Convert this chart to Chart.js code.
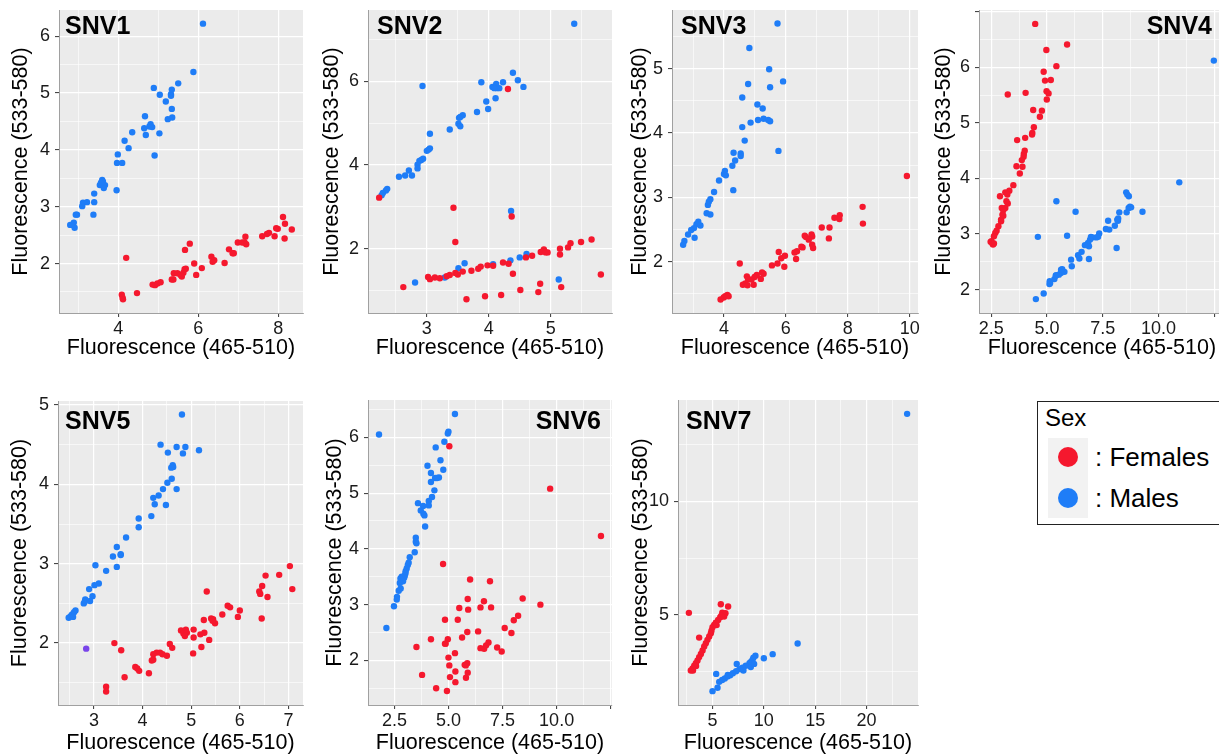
<!DOCTYPE html>
<html>
<head>
<meta charset="utf-8">
<script src="https://cdn.jsdelivr.net/npm/chart.js"></script>
<style>
  html, body { margin: 0; padding: 0; background: #fff; overflow: hidden; width: 1219px; height: 755px; }
  .panel { position: absolute; }
  .lg { position: absolute; font-family: "Liberation Sans", Arial, sans-serif; color: #000; white-space: nowrap; }
</style>
</head>
<body>
<div class="lg" style="left:1037px;top:401px;width:200px;height:122px;border:1px solid #222;"></div>
<div class="lg" style="left:1045px;top:404px;font-size:24px;line-height:28px;">Sex</div>
<div class="lg" style="left:1048px;top:438px;width:40px;height:80px;background:#F2F2F2;"></div>
<div class="lg" style="left:1058px;top:447px;width:20px;height:20px;border-radius:50%;background:#F5182E;"></div>
<div class="lg" style="left:1058px;top:488px;width:20px;height:20px;border-radius:50%;background:#1F7DF7;"></div>
<div class="lg" style="left:1095px;top:442px;font-size:26px;line-height:30px;">: Females</div>
<div class="lg" style="left:1095px;top:483px;font-size:26px;line-height:30px;">: Males</div>

<script>
// ---- data: [x, y] = [Fluorescence 465-510, Fluorescence 533-580]
const snv1Females = [[4.20,2.10],[4.09,1.45],[4.11,1.40],[4.12,1.37],[4.47,1.48],[4.86,1.63],[4.92,1.62],[4.98,1.65],[5.06,1.67],[5.34,1.72],[5.38,1.72],[5.39,1.83],[5.48,1.83],[5.56,1.80],[5.63,1.84],[5.66,1.90],[5.69,1.91],[5.59,1.77],[5.67,2.24],[5.79,2.35],[5.90,2.00],[5.95,1.80],[6.09,1.92],[6.33,2.12],[6.36,2.03],[6.40,2.06],[6.66,2.01],[6.77,2.25],[6.86,2.18],[6.89,2.18],[6.99,2.37],[7.10,2.37],[7.16,2.37],[7.18,2.47],[7.20,2.34],[7.60,2.48],[7.72,2.52],[7.77,2.54],[7.91,2.48],[7.95,2.62],[7.99,2.61],[8.12,2.82],[8.16,2.44],[8.17,2.70],[8.34,2.60]];
const snv1Males = [[6.12,6.22],[5.88,5.37],[5.50,5.17],[5.34,5.06],[5.32,4.98],[5.32,4.95],[5.19,4.85],[5.04,4.97],[4.89,5.09],[5.34,4.72],[5.35,4.57],[5.24,4.54],[4.67,4.59],[4.65,4.38],[4.78,4.41],[4.81,4.45],[4.85,4.40],[4.69,4.26],[5.03,4.29],[4.35,4.31],[4.16,4.16],[4.26,4.03],[4.91,3.90],[3.99,3.92],[3.97,3.77],[4.10,3.77],[3.96,3.29],[3.60,3.47],[3.62,3.44],[3.67,3.38],[3.54,3.38],[3.64,3.33],[3.57,3.42],[3.40,3.23],[3.40,3.08],[3.38,2.86],[3.22,3.08],[3.12,3.07],[3.10,3.01],[2.97,2.86],[2.94,2.86],[2.80,2.68],[2.89,2.72],[2.91,2.63],[2.84,2.68]];
const snv1XTicks = [4, 6, 8];
const snv1YTicks = [2, 3, 4, 5, 6];

const snv2Females = [[2.23,3.22],[4.31,5.82],[3.43,2.98],[3.46,2.16],[4.37,2.77],[2.62,1.08],[3.02,1.32],[3.05,1.27],[3.13,1.31],[3.21,1.29],[3.32,1.34],[3.37,1.37],[3.46,1.42],[3.50,1.38],[3.58,1.45],[3.72,1.47],[3.83,1.52],[3.87,1.57],[3.98,1.60],[4.07,1.59],[4.23,1.67],[4.32,1.64],[4.60,1.79],[4.70,1.83],[4.84,1.92],[4.89,1.98],[4.92,1.91],[4.95,1.91],[5.15,2.00],[5.15,1.86],[5.28,2.03],[5.32,2.13],[5.49,2.16],[5.66,2.22],[5.81,1.38],[4.39,1.40],[4.83,1.16],[5.17,1.08],[4.80,0.96],[4.51,1.01],[4.20,0.89],[3.94,0.86],[3.64,0.79]];
const snv2Males = [[5.38,7.38],[4.39,6.21],[4.47,6.03],[4.23,5.98],[3.88,5.98],[4.56,5.87],[4.06,5.87],[4.12,5.94],[4.13,5.84],[4.17,5.84],[4.09,5.84],[2.93,5.89],[4.11,5.60],[3.96,5.52],[3.99,5.34],[3.81,5.27],[3.58,5.19],[3.54,5.15],[3.52,5.13],[3.51,4.99],[3.54,4.93],[3.37,4.85],[3.05,4.75],[3.05,4.40],[3.03,4.37],[3.00,4.34],[2.94,4.15],[2.91,4.12],[2.88,4.10],[2.85,4.01],[2.85,3.92],[2.71,3.87],[2.76,3.75],[2.65,3.75],[2.55,3.72],[2.36,3.43],[2.34,3.39],[2.29,3.33],[2.27,3.28],[4.36,2.90],[2.81,1.19],[3.29,1.31],[3.51,1.53],[3.61,1.65],[4.07,1.63],[4.35,1.72],[4.50,1.79],[4.61,1.87],[5.13,1.26]];
const snv2XTicks = [3, 4, 5];
const snv2YTicks = [2, 4, 6];

const snv3Females = [[9.91,3.33],[8.48,2.85],[8.49,2.59],[7.74,2.72],[7.73,2.66],[7.57,2.68],[7.16,2.53],[7.41,2.53],[7.39,2.36],[6.83,2.42],[6.85,2.39],[6.65,2.38],[6.74,2.34],[6.61,2.40],[6.85,2.26],[6.88,2.21],[6.50,2.23],[6.54,2.22],[6.28,2.14],[6.36,2.16],[6.33,2.04],[5.77,2.15],[5.85,2.05],[5.97,2.09],[5.95,1.92],[5.73,1.97],[5.55,1.94],[4.51,1.97],[5.23,1.83],[5.28,1.81],[5.06,1.79],[4.99,1.76],[5.19,1.73],[4.74,1.77],[4.78,1.72],[4.89,1.72],[4.69,1.66],[4.61,1.64],[4.76,1.63],[4.96,1.64],[4.11,1.48],[4.04,1.46],[3.99,1.44],[3.89,1.41],[4.15,1.46]];
const snv3Males = [[5.73,5.70],[4.82,5.32],[5.46,4.99],[5.91,4.80],[4.78,4.76],[5.49,4.71],[4.59,4.55],[5.08,4.44],[5.25,4.38],[5.10,4.20],[5.28,4.22],[5.43,4.20],[5.49,4.18],[4.86,4.16],[4.59,4.09],[4.67,3.88],[5.76,3.72],[4.31,3.69],[4.54,3.68],[4.54,3.64],[4.36,3.57],[4.27,3.49],[4.03,3.41],[4.00,3.36],[4.06,3.34],[4.30,3.11],[3.84,3.26],[3.68,3.08],[3.56,2.97],[3.51,2.93],[3.48,2.88],[3.44,2.75],[3.56,2.73],[3.17,2.62],[3.11,2.58],[3.24,2.56],[3.03,2.52],[2.94,2.49],[2.84,2.42],[3.05,2.37],[2.72,2.32],[2.68,2.26]];
const snv3XTicks = [4, 6, 8, 10];
const snv3YTicks = [2, 3, 4, 5];

const snv4Females = [[4.47,6.78],[5.90,6.41],[4.97,6.31],[5.42,6.02],[4.85,5.92],[5.17,5.77],[4.91,5.76],[4.04,5.54],[4.98,5.57],[5.07,5.53],[4.99,5.42],[3.24,5.51],[4.38,5.23],[4.77,5.22],[4.68,5.11],[4.41,4.92],[4.34,4.82],[4.33,4.79],[4.02,4.73],[3.66,4.69],[4.00,4.50],[3.96,4.44],[3.95,4.39],[3.87,4.33],[3.63,4.22],[3.90,4.21],[3.78,4.09],[3.49,3.88],[3.31,3.78],[3.13,3.75],[3.22,3.71],[2.89,3.68],[3.24,3.55],[3.18,3.59],[3.13,3.47],[2.97,3.47],[3.04,3.43],[3.00,3.35],[3.04,3.33],[2.94,3.26],[2.94,3.23],[2.82,3.14],[2.74,3.06],[2.68,3.02],[2.62,2.96],[2.51,2.87],[2.47,2.86],[2.55,2.83],[2.58,2.81],[2.62,2.83]];
const snv4Males = [[12.48,6.12],[10.93,3.93],[8.55,3.75],[8.67,3.68],[8.60,3.71],[8.66,3.47],[8.72,3.49],[8.57,3.39],[8.77,3.48],[9.28,3.40],[8.24,3.39],[8.15,3.26],[8.19,3.28],[8.04,3.15],[8.18,3.24],[8.12,2.75],[7.74,3.24],[7.79,3.08],[7.64,3.09],[7.34,3.01],[7.29,2.95],[7.21,2.94],[7.03,2.94],[6.97,2.95],[6.93,2.90],[6.84,2.84],[6.88,2.78],[6.70,2.80],[6.55,2.68],[6.39,2.62],[6.45,2.56],[6.88,2.55],[6.28,3.40],[5.42,3.59],[5.90,2.97],[4.59,2.95],[6.08,2.54],[6.11,2.42],[5.68,2.37],[5.62,2.30],[5.53,2.27],[5.39,2.25],[5.33,2.19],[5.41,2.26],[5.12,2.15],[5.11,2.10],[5.14,2.12],[4.85,1.93],[4.50,1.83],[5.78,2.32],[5.63,2.36]];
const snv4XTicks = [2.5, 5, 7.5, 10, 12.5];
const snv4XLabels = ['2.5', '5.0', '7.5', '10.0', ''];
const snv4YTicks = [2, 3, 4, 5, 6, 7];
const snv4YLabels = ['2', '3', '4', '5', '6', ''];

const snv5Females = [[7.03,2.97],[7.08,2.68],[6.81,2.86],[6.53,2.85],[6.46,2.72],[6.40,2.65],[6.42,2.62],[6.57,2.58],[6.45,2.31],[5.75,2.47],[5.80,2.45],[6.00,2.41],[5.64,2.36],[5.96,2.33],[5.41,2.31],[5.45,2.30],[5.49,2.25],[5.44,2.28],[5.32,2.65],[5.26,2.29],[5.27,2.13],[5.19,2.11],[5.37,2.04],[5.21,1.95],[5.05,2.17],[5.05,2.07],[5.04,1.87],[4.79,2.16],[4.89,2.17],[4.84,2.12],[4.91,2.13],[4.87,2.09],[4.56,1.99],[4.61,1.94],[4.29,1.88],[4.36,1.88],[4.41,1.86],[4.50,1.84],[4.22,1.86],[4.19,1.78],[4.22,1.79],[3.85,1.70],[3.89,1.68],[3.93,1.65],[4.13,1.62],[3.42,2.00],[3.56,1.91],[3.63,1.57],[3.25,1.45],[3.25,1.39]];
const snv5Males = [[4.81,4.88],[4.37,4.50],[4.70,4.47],[4.88,4.47],[4.83,4.39],[4.52,4.40],[5.16,4.43],[4.62,4.24],[4.63,4.22],[4.59,4.21],[4.60,4.07],[4.51,4.02],[4.42,3.94],[4.70,3.94],[4.33,3.86],[4.22,3.83],[4.25,3.75],[4.48,3.74],[4.18,3.60],[3.92,3.57],[3.92,3.46],[3.66,3.33],[3.47,3.21],[3.55,3.12],[3.55,3.11],[3.39,3.09],[3.47,2.96],[3.03,2.98],[3.25,2.91],[3.10,2.75],[3.01,2.73],[2.90,2.68],[2.97,2.59],[2.92,2.53],[2.82,2.55],[2.81,2.52],[2.79,2.50],[2.62,2.41],[2.59,2.39],[2.55,2.36],[2.52,2.34],[2.48,2.32],[2.57,2.33]];
const snv5Mixed = [[2.84,1.93]];
const snv5XTicks = [3, 4, 5, 6, 7];
const snv5YTicks = [2, 3, 4, 5];

const snv6Females = [[5.04,5.84],[9.70,5.08],[12.05,4.23],[4.75,3.73],[6.00,3.45],[6.92,3.42],[5.89,3.10],[6.64,3.06],[8.43,3.11],[9.25,3.00],[5.50,2.94],[6.48,2.95],[6.97,2.95],[5.91,2.91],[8.22,2.80],[8.02,2.72],[4.84,2.73],[5.43,2.73],[6.37,2.52],[5.87,2.51],[7.60,2.58],[7.91,2.49],[4.97,2.38],[4.84,2.30],[4.87,2.30],[4.19,2.38],[5.63,2.41],[3.52,2.24],[6.48,2.22],[6.65,2.21],[6.74,2.27],[6.85,2.32],[7.25,2.23],[7.46,2.16],[5.00,2.05],[5.30,2.13],[5.04,1.91],[5.75,1.92],[5.87,1.95],[5.80,1.91],[5.32,1.80],[5.89,1.78],[5.07,1.70],[5.81,1.69],[3.78,1.74],[5.32,1.61],[4.43,1.50],[4.93,1.45]];
const snv6Males = [[5.30,6.42],[1.79,6.05],[5.00,6.10],[4.97,6.07],[4.81,5.92],[4.41,5.82],[4.63,5.59],[4.03,5.49],[4.76,5.42],[4.56,5.28],[4.38,5.27],[4.47,5.27],[4.19,5.36],[4.19,5.20],[4.35,5.05],[4.24,4.93],[3.59,4.82],[4.09,4.86],[4.09,4.78],[3.83,4.77],[3.72,4.69],[3.84,4.63],[3.89,4.60],[3.92,4.40],[3.49,4.20],[3.49,4.13],[3.52,4.10],[3.44,3.94],[3.21,3.85],[3.16,3.75],[3.12,3.71],[3.07,3.65],[3.02,3.60],[3.01,3.56],[2.98,3.52],[2.95,3.48],[2.84,3.50],[2.78,3.47],[2.90,3.42],[2.75,3.39],[2.79,3.29],[2.70,3.25],[2.62,3.14],[2.61,3.09],[2.48,2.97],[2.13,2.58]];
const snv6XTicks = [2.5, 5, 7.5, 10, 12.5];
const snv6XLabels = ['2.5', '5.0', '7.5', '10.0', ''];
const snv6YTicks = [2, 3, 4, 5, 6];

const snv7Females = [[2.70,5.09],[3.70,4.00],[5.81,5.47],[6.52,5.37],[6.13,4.93],[5.75,4.90],[5.55,4.78],[6.10,5.00],[6.26,5.07],[5.95,5.10],[5.85,4.95],[5.16,4.56],[5.00,4.46],[5.32,4.66],[5.40,4.55],[4.90,4.30],[4.84,4.19],[4.68,4.05],[4.51,3.90],[4.35,3.75],[4.19,3.61],[4.03,3.43],[3.87,3.28],[3.70,3.14],[3.54,2.99],[3.40,2.75],[3.38,2.87],[3.22,2.76],[3.10,2.55],[3.06,2.64],[2.89,2.55]];
const snv7Males = [[23.95,13.86],[13.29,3.74],[10.86,3.27],[10.00,3.09],[9.18,3.20],[8.98,3.11],[8.89,3.02],[8.73,2.93],[8.60,2.87],[8.24,2.76],[7.92,2.67],[7.62,2.61],[7.30,2.52],[6.98,2.43],[6.72,2.34],[6.46,2.29],[6.20,2.20],[5.94,2.13],[5.65,2.05],[7.36,2.84],[6.49,2.35],[5.36,2.40],[5.49,1.79],[5.00,1.64],[8.73,2.70],[9.05,2.84],[8.01,2.55]];
const snv7XTicks = [5, 10, 15, 20];
const snv7YTicks = [5, 10];

const RED = '#F5182E';
const BLUE = '#1F7DF7';
const PURPLE = '#7A45EA';
const FONT = '"Liberation Sans", Arial, sans-serif';

// page layout: plot box [left, top, right, bottom], axis range, label anchor, title gaps
const panels = [
  { name: 'SNV1', fem: snv1Females, mal: snv1Males, box: [59, 10, 303, 313], x: [2.52, 8.62], y: [1.13, 6.46], xt: snv1XTicks, yt: snv1YTicks, lab: [65, 34, 'left'], yGap: 38, xGap: 35 },
  { name: 'SNV2', fem: snv2Females, mal: snv2Males, box: [368, 10, 612, 313], x: [2.05, 5.99], y: [0.46, 7.71], xt: snv2XTicks, yt: snv2YTicks, lab: [377, 34, 'left'], yGap: 36, xGap: 35 },
  { name: 'SNV3', fem: snv3Females, mal: snv3Males, box: [672, 10, 918, 313], x: [2.32, 10.27], y: [1.20, 5.91], xt: snv3XTicks, yt: snv3YTicks, lab: [681, 34, 'left'], yGap: 32, xGap: 35 },
  { name: 'SNV4', fem: snv4Females, mal: snv4Males, box: [979, 10, 1225, 313], x: [1.95, 12.98], y: [1.58, 7.03], xt: snv4XTicks, xl: snv4XLabels, yt: snv4YTicks, yl: snv4YLabels, lab: [1212, 34, 'right'], yGap: 35, xGap: 35 },
  { name: 'SNV5', fem: snv5Females, mal: snv5Males, mix: snv5Mixed, box: [58, 401, 303, 705], x: [2.26, 7.30], y: [1.22, 5.05], xt: snv5XTicks, yt: snv5YTicks, lab: [65, 429, 'left'], yGap: 38, xGap: 38.5 },
  { name: 'SNV6', fem: snv6Females, mal: snv6Males, box: [368, 400, 612, 705], x: [1.28, 12.56], y: [1.20, 6.67], xt: snv6XTicks, xl: snv6XLabels, yt: snv6YTicks, lab: [601, 429, 'right'], yGap: 33, xGap: 38.5 },
  { name: 'SNV7', fem: snv7Females, mal: snv7Males, box: [678, 400, 918, 705], x: [1.64, 25.01], y: [1.03, 14.47], xt: snv7XTicks, yt: snv7YTicks, lab: [686, 429, 'left'], yGap: 37, xGap: 38.5 }
];

// room round the plot box; top must exceed the y-axis label overhang
const PAD_TOP = 24, PAD_RIGHT = 24, Y_W = 60, X_H = 54;

const panelBg = {
  id: 'panelBg',
  beforeDraw(chart) {
    const a = chart.chartArea, ctx = chart.ctx;
    ctx.save();
    ctx.fillStyle = '#EBEBEB';
    ctx.fillRect(a.left, a.top, a.right - a.left, a.bottom - a.top);
    ctx.restore();
  }
};

const panelLabel = {
  id: 'panelLabel',
  afterDraw(chart, args, opts) {
    const ctx = chart.ctx;
    ctx.save();
    ctx.font = 'bold 25px ' + FONT;
    ctx.fillStyle = '#000';
    ctx.textAlign = opts.align;
    ctx.textBaseline = 'alphabetic';
    ctx.fillText(opts.text, opts.x, opts.y);
    ctx.restore();
  }
};

// majors plus ggplot-style minor breaks half way between them
function withMinors(majors, range) {
  const step = majors.length > 1 ? majors[1] - majors[0] : majors[0];
  const all = majors.map(v => v - step / 2).concat(majors, [majors[majors.length - 1] + step / 2]);
  return all.filter(v => v > range[0] && v < range[1]).sort((a, b) => a - b);
}

function isMajor(v, majors) {
  return majors.some(m => Math.abs(m - v) < 1e-6);
}

function axis(range, majors, labels, title, titlePad) {
  const vals = withMinors(majors, range);
  return {
    type: 'linear',
    min: range[0],
    max: range[1],
    afterBuildTicks: s => { s.ticks = vals.map(v => ({ value: v })); },
    ticks: {
      autoSkip: false,
      maxRotation: 0,
      color: '#1a1a1a',
      font: { family: FONT, size: 18 },
      callback: v => {
        const i = majors.findIndex(m => Math.abs(m - v) < 1e-6);
        if (i < 0) return '';
        return labels ? labels[i] : String(v);
      }
    },
    grid: {
      color: '#FFFFFF',
      lineWidth: c => (c.tick && isMajor(c.tick.value, majors)) ? 1.2 : 0.6,
      tickColor: c => (c.tick && isMajor(c.tick.value, majors)) ? '#333333' : 'rgba(0,0,0,0)',
      tickLength: 4,
      tickWidth: 1
    },
    border: { display: true, color: '#A0A0A0', width: 1 },
    title: { display: true, text: title, color: '#000', font: { family: FONT, size: 21.5 }, padding: { top: titlePad, bottom: titlePad } }
  };
}

function toPts(arr) {
  return arr.map(p => ({ x: p[0], y: p[1] }));
}

function pointSet(arr, color) {
  return { data: toPts(arr), backgroundColor: color, borderWidth: 0, pointRadius: 3.2, pointHoverRadius: 3.2 };
}

panels.forEach(p => {
  const [l, t, r, b] = p.box;
  const left = l - Y_W, top = t - PAD_TOP;
  const w = (r - l) + Y_W + PAD_RIGHT, h = (b - t) + PAD_TOP + X_H;

  const div = document.createElement('div');
  div.className = 'panel';
  div.style.left = left + 'px';
  div.style.top = top + 'px';
  const canvas = document.createElement('canvas');
  canvas.width = w;
  canvas.height = h;
  canvas.style.width = w + 'px';
  canvas.style.height = h + 'px';
  div.appendChild(canvas);
  document.body.appendChild(div);

  const sets = [pointSet(p.fem, RED), pointSet(p.mal, BLUE)];
  if (p.mix) sets.unshift(pointSet(p.mix, PURPLE));

  const xAxis = axis(p.x, p.xt, p.xl, 'Fluorescence (465-510)', X_H - p.xGap - 12.9);
  xAxis.ticks.padding = 1;
  xAxis.afterFit = s => { s.height = X_H; };
  const yAxis = axis(p.y, p.yt, p.yl, 'Fluorescence (533-580)', Y_W - p.yGap - 12.9);
  yAxis.ticks.padding = 5;
  yAxis.afterFit = s => { s.width = Y_W; };

  new Chart(canvas.getContext('2d'), {
    type: 'scatter',
    data: { datasets: sets },
    options: {
      responsive: false,
      animation: false,
      devicePixelRatio: 1,
      layout: { padding: { top: PAD_TOP, right: PAD_RIGHT, left: 0, bottom: 0 } },
      plugins: {
        legend: { display: false },
        tooltip: { enabled: false },
        panelLabel: { text: p.name, x: p.lab[0] - left, y: p.lab[1] - top, align: p.lab[2] }
      },
      scales: { x: xAxis, y: yAxis }
    },
    plugins: [panelBg, panelLabel]
  });
});
</script>
</body>
</html>
